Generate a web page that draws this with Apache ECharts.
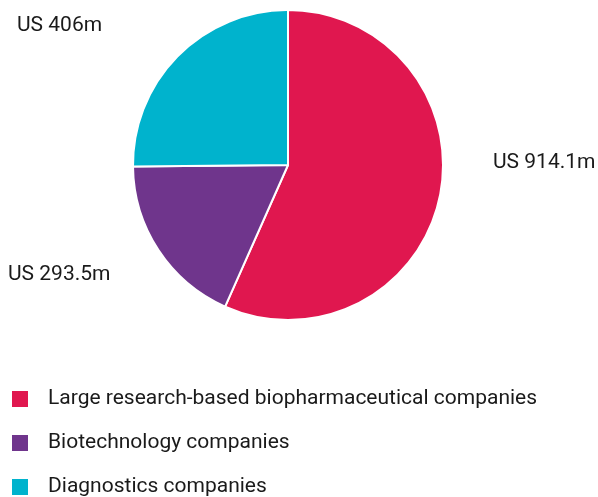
<!DOCTYPE html>
<html>
<head>
<meta charset="utf-8">
<script src="https://cdn.jsdelivr.net/npm/echarts@6/dist/echarts.min.js"></script>
<style>
  html, body { margin: 0; padding: 0; background: #fff; }
  #chart { width: 598px; height: 497px; }
</style>
</head>
<body>
<div id="chart"></div>
<script>
// spend by company type (US$ m)
var categories = [
  'Large research-based biopharmaceutical companies',
  'Biotechnology companies',
  'Diagnostics companies'
];
var values = [914.1, 293.5, 406];
var labels = ['US 914.1m', 'US 293.5m', 'US 406m'];
var colors = ['#e0174f', '#6f358c', '#00b3cd'];

// where each value label sits (left x, middle y)
var labelSpots = [[493, 163], [8, 275], [17, 26]];

var chart = echarts.init(document.getElementById('chart'));

var option = {
  animation: false,
  color: colors,
  textStyle: { fontFamily: 'Roboto' },
  legend: {
    orient: 'vertical',
    left: 12,
    top: 388,
    padding: 0,
    height: 120,
    icon: 'rect',
    itemWidth: 16,
    itemHeight: 16,
    itemGap: 22,
    selectedMode: false,
    itemStyle: { borderWidth: 0 },
    textStyle: {
      fontFamily: 'Roboto',
      fontSize: 21,
      color: '#1a1a1a',
      lineHeight: 22,
      padding: [0, 0, 0, 15]
    },
    data: categories
  },
  series: [{
    type: 'pie',
    center: [288, 165],
    radius: 155,
    startAngle: 90,
    clockwise: true,
    itemStyle: { borderColor: '#fff', borderWidth: 2 },
    label: {
      show: true,
      position: 'outside',
      overflow: 'none',
      fontFamily: 'Roboto',
      fontSize: 21,
      color: '#1a1a1a',
      formatter: function (p) { return labels[p.dataIndex]; }
    },
    labelLine: { show: false },
    labelLayout: function (p) {
      var s = labelSpots[p.dataIndex];
      return { x: s[0], y: s[1], align: 'left', verticalAlign: 'middle' };
    },
    emphasis: { disabled: true },
    data: categories.map(function (c, i) {
      return { name: c, value: values[i] };
    })
  }]
};

chart.setOption(option);
</script>
</body>
</html>
